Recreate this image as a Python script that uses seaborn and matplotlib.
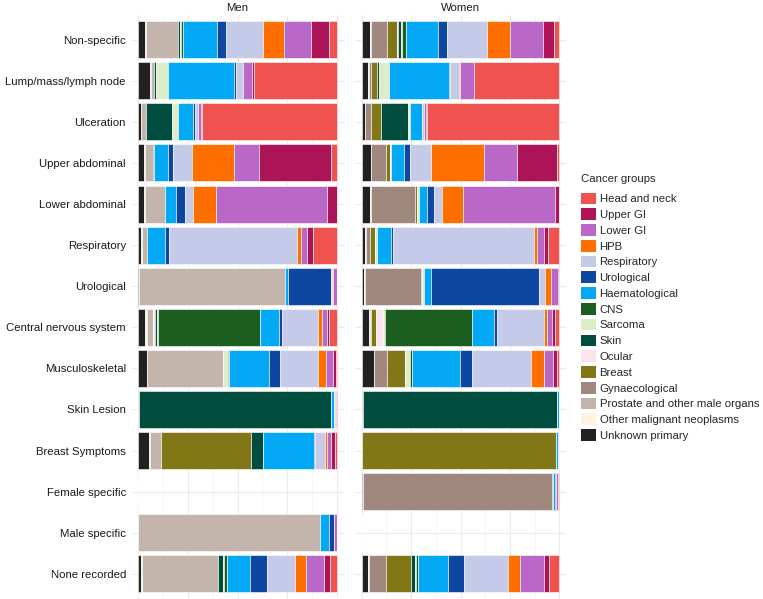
import numpy as np
import pandas as pd
import matplotlib
matplotlib.use("Agg")
import matplotlib.pyplot as plt
from matplotlib.patches import Patch
from matplotlib.ticker import MultipleLocator
import seaborn as sns

# symptom groups (top to bottom)
symptoms = ["Non-specific", "Lump/mass/lymph node", "Ulceration", "Upper abdominal",
            "Lower abdominal", "Respiratory", "Urological", "Central nervous system",
            "Musculoskeletal", "Skin Lesion", "Breast Symptoms", "Female specific",
            "Male specific", "None recorded"]

# cancer groups in stacking order (left to right)
groups = ["Unknown primary", "Other malignant neoplasms", "Prostate and other male organs",
          "Gynaecological", "Breast", "Ocular", "Skin", "Sarcoma", "CNS", "Haematological",
          "Urological", "Respiratory", "HPB", "Lower GI", "Upper GI", "Head and neck"]

group_colors = ["#212121", "#FFF3E0", "#C4B5AC", "#A1887F", "#827717", "#FCE4EC",
                "#004D40", "#DCEDC8", "#1B5E20", "#03A9F4", "#0D47A1", "#C5CAE9",
                "#FF6F00", "#BA68C8", "#AD1457", "#EF5350"]

# percentages, one row per symptom group
men_pct = [
    [3.4, 0.5, 16, 0, 0, 0, 1, 0.5, 1.2, 17, 4.5, 18.4, 10.4, 13.4, 9, 3.9],
    [6, 0.5, 1.5, 0, 0, 0, 1, 6, 0, 33, 1, 3.3, 0, 4.5, 1.2, 41.5],
    [1.3, 0.3, 2.3, 0, 0, 0, 13, 3, 0, 7.7, 0.7, 1.7, 0, 1.3, 0.7, 67.5],
    [3, 0.3, 4.3, 0, 0, 0, 0, 0, 0.5, 6.7, 2.7, 9.4, 21, 12.7, 36, 3],
    [3, 0.3, 10, 0, 0, 0, 0, 0, 0, 5.7, 4.4, 4, 11.7, 56, 4.9, 0],
    [1.7, 0.3, 2.3, 0, 0, 0, 0, 0, 0.3, 9, 2, 64.3, 2, 3, 3, 11.9],
    [0.3, 0, 73.7, 0, 0, 0, 0, 0, 0, 1.3, 21.8, 0.3, 0.9, 1.8, 0, 0],
    [3.7, 0.7, 3, 0, 0, 1.3, 1, 0.5, 50.9, 9.7, 1.3, 18, 2, 2.3, 1.2, 4],
    [4.4, 0.3, 37.9, 0, 0, 0, 0, 2.7, 0.5, 20, 5.7, 19.4, 3.7, 3.4, 1.5, 0.7],
    [0, 0, 0.7, 0, 0, 0, 96.2, 0, 0, 1.7, 0, 0.2, 0, 0.5, 0, 0.7],
    [5.7, 0.3, 5.4, 0, 45.6, 0, 5.7, 0, 0, 26, 0.5, 5, 0.7, 2.3, 2, 0.8],
    [0] * 16,
    [0, 0, 91.3, 0, 0, 0, 0, 0, 0, 4.7, 2.5, 0, 0, 1.5, 0, 0],
    [1.7, 0.3, 38.2, 0, 0, 0, 2.3, 0.3, 1.5, 11.9, 8.2, 13.9, 5.7, 9, 3, 3.5],
]

women_pct = [
    [4.4, 0.5, 0, 7.9, 4.9, 0.5, 1.7, 0.7, 2, 16, 4.2, 20.2, 11.6, 16.7, 5.4, 2.9],
    [3.4, 0.3, 0, 1.3, 2.7, 0, 1, 5, 0, 30.5, 0.5, 4.2, 0.7, 6.9, 0.3, 42.8],
    [1.7, 0.3, 0, 2.7, 5, 0, 13.8, 1, 0, 6, 0.3, 1, 0, 1, 0.5, 66.8],
    [4.7, 0.3, 0, 7.4, 1.7, 0, 0, 0.5, 0.3, 6.7, 3, 10.4, 26.8, 16.5, 20.4, 1],
    [4.4, 0.3, 0, 22.2, 1, 0, 0, 1, 0, 4, 3.7, 4, 10.4, 46.3, 2.5, 0],
    [2, 0.3, 0, 2, 2.7, 0, 0, 0.7, 0, 7.1, 1.3, 70.7, 2, 3.4, 2, 5.7],
    [1.3, 0.3, 0, 28.3, 0.7, 0, 0, 1, 0, 3.7, 54.4, 3.2, 2.7, 3.7, 0.7, 0],
    [3.7, 0.5, 0, 0.7, 2.4, 3.4, 0, 1.3, 43.9, 10.9, 1.7, 23.6, 1.7, 2.4, 1.2, 2.5],
    [6.1, 0.3, 0, 6.7, 8.8, 0, 0, 2.7, 1, 24.2, 6.2, 29.3, 6.7, 4.7, 2.2, 1],
    [0, 0, 0, 0.7, 0, 0, 98.3, 0, 0, 1, 0, 0, 0, 0, 0, 0],
    [0, 0, 0, 0, 98, 0, 0, 0, 0, 1.3, 0, 0, 0, 0.7, 0, 0],
    [0.7, 0, 0, 95.6, 0.7, 0, 0, 0, 0, 0.7, 0.7, 0, 0, 1, 0, 0.7],
    [0] * 16,
    [3.4, 0.3, 0, 8.4, 12.5, 0, 2, 0.7, 1.3, 14.8, 8.1, 21.9, 6.1, 12.1, 2.4, 5.4],
]

sns.set_theme(style="whitegrid")
plt.rcParams["font.family"] = ["Liberation Sans", "DejaVu Sans"]
plt.rcParams["font.size"] = 8.2

W, H = 763, 599
fig = plt.figure(figsize=(W / 100, H / 100), dpi=100)

def px_axes(x0, x1, y0, y1):
    return fig.add_axes([x0 / W, 1 - y1 / H, (x1 - x0) / W, (y1 - y0) / H])

ax_men = px_axes(131.5, 343.5, 15, 598.5)
ax_women = px_axes(355, 566, 15, 598.5)


def draw_panel(ax, pct, title, show_labels):
    df = pd.DataFrame(pct, columns=groups, index=symptoms)
    tot = df.sum(axis=1).replace(0, 1)
    prop = df.div(tot, axis=0)
    left = prop.cumsum(axis=1) - prop
    ypos = np.arange(len(symptoms))
    for g, c in zip(groups, group_colors):
        ax.barh(ypos, prop[g], left=left[g], height=0.9, color=c,
                edgecolor="white", linewidth=0.4, zorder=3)
    ax.set_xlim(-0.033, 1.033)
    ax.set_ylim(len(symptoms) - 0.4, -0.6)
    ax.xaxis.set_major_locator(MultipleLocator(0.25))
    ax.xaxis.set_minor_locator(MultipleLocator(0.125))
    ax.grid(True, which="major", color="#EBEBEB", linewidth=0.8)
    ax.grid(True, which="minor", axis="x", color="#F2F2F2", linewidth=0.5)
    ax.set_axisbelow(True)
    ax.set_facecolor("white")
    for s in ax.spines.values():
        s.set_visible(False)
    ax.set_yticks(ypos)
    ax.tick_params(axis="both", length=0, pad=4)
    ax.set_xticklabels([])
    if show_labels:
        ax.set_yticklabels(symptoms, fontsize=8.2, color="#1a1a1a")
    else:
        ax.set_yticklabels([])
    ax.set_xlabel("")
    ax.set_ylabel("")
    ax.set_title(title, fontsize=8.2, pad=3, color="#1a1a1a")


draw_panel(ax_men, men_pct, "Men", True)
draw_panel(ax_women, women_pct, "Women", False)

handles = [Patch(facecolor=c, edgecolor="none", label=g)
           for g, c in zip(groups[::-1], group_colors[::-1])]
leg = fig.legend(handles=handles, title="Cancer groups", loc="upper left",
                 bbox_to_anchor=(579 / W, 1 - 172 / H), frameon=False,
                 fontsize=8.2, title_fontsize=8.2, handlelength=1.25,
                 handleheight=1.2, labelspacing=0.36, handletextpad=0.35,
                 borderpad=0.2, borderaxespad=0)
leg._legend_box.align = "left"
# a little more room between the title and the first key, as in the original
leg._legend_box.sep = leg._legend_box.sep + 3

fig.savefig("out.png", dpi=100)
